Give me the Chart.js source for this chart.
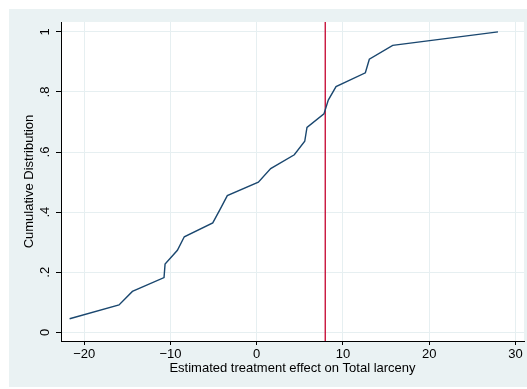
<!DOCTYPE html>
<html>
<head>
<meta charset="utf-8">
<script src="https://cdn.jsdelivr.net/npm/chart.js@4/dist/chart.umd.min.js"></script>
<style>
    html, body { margin: 0; padding: 0; background: #ffffff; }
    canvas { display: block; }
</style>
</head>
<body>
<canvas id="cdfChart" width="527" height="389"></canvas>
<script>
"use strict";
// estimated effects (sorted) and their cumulative share
const effectValues = [-21.7, -15.97, -14.42, -10.75, -10.63, -9.2, -8.4, -5.1, -4.25, -3.41, 0.19, 1.62,
    4.36, 5.57, 5.83, 7.8, 8.3, 9.2, 12.6, 13.06, 15.77, 27.98];
const cdfValues = [0.045, 0.091, 0.136, 0.182, 0.227, 0.273, 0.318, 0.364, 0.409, 0.455, 0.5, 0.545,
    0.591, 0.636, 0.682, 0.727, 0.773, 0.818, 0.864, 0.909, 0.955, 1];
const actualEffect = 7.95;
const xTicks = [-20, -10, 0, 10, 20, 30];
const yTicks = [0, 0.2, 0.4, 0.6, 0.8, 1];
const xRange = [-22.7, 31];
const yRange = [-0.029, 1.033];

const fontFamily = "'Liberation Sans', Arial, sans-serif";
const gridColor = "#e6eff1";

const cdfPoints = effectValues.map((x, i) => ({x: x, y: cdfValues[i]}));

// stata-ish backdrop: white border, light blue-grey graph region, white plot region
const backdrop = {
    id: "backdrop",
    beforeDraw(chart) {
        const ctx = chart.ctx;
        const area = chart.chartArea;
        ctx.save();
        ctx.fillStyle = "#ffffff";
        ctx.fillRect(0, 0, chart.width, chart.height);
        ctx.fillStyle = "#eaf2f3";
        ctx.fillRect(9, 9, chart.width - 9, chart.height - 11);
        ctx.fillStyle = "#ffffff";
        ctx.fillRect(area.left, area.top, area.right - area.left, area.bottom - area.top);
        ctx.restore();
    }
};

function yLabel(v) {
    const r = Math.round(v * 10) / 10;
    if(r === 0) return "0";
    if(r === 1) return "1";
    return String(r).replace(/^0/, "");
}

function xLabel(v) {
    return v < 0 ? "\u2212" + Math.abs(v) : String(v);
}

const chartInstance = new Chart(document.getElementById("cdfChart"), {
    type: "scatter",
    data: {
        datasets: [
            {
                data: cdfPoints,
                showLine: true,
                borderColor: "#1a476f",
                borderWidth: 1.4,
                pointRadius: 0,
                tension: 0
            }, {
                data: [{x: actualEffect, y: yRange[0]}, {x: actualEffect, y: yRange[1]}],
                showLine: true,
                borderColor: "#c8143c",
                borderWidth: 1.4,
                pointRadius: 0
            }
        ]
    },
    options: {
        responsive: false,
        animation: false,
        devicePixelRatio: 1,
        layout: {padding: {left: 0, right: 3, top: 22, bottom: 0}},
        plugins: {
            legend: {display: false},
            tooltip: {enabled: false}
        },
        scales: {
            x: {
                type: "linear",
                min: xRange[0],
                max: xRange[1],
                afterFit: scale => { scale.height = 48; },
                afterBuildTicks: scale => { scale.ticks = xTicks.map(v => ({value: v})); },
                grid: {color: gridColor, lineWidth: 1, tickColor: "#000000", tickLength: 4},
                border: {color: "#000000", width: 1},
                ticks: {
                    padding: 2,
                    maxRotation: 0,
                    color: "#000000",
                    font: {family: fontFamily, size: 13},
                    callback: xLabel
                },
                title: {
                    display: true,
                    text: "Estimated treatment effect on Total larceny",
                    color: "#000000",
                    font: {family: fontFamily, size: 13},
                    padding: {top: 0, bottom: 13}
                }
            },
            y: {
                type: "linear",
                min: yRange[0],
                max: yRange[1],
                afterFit: scale => { scale.width = 61; },
                afterBuildTicks: scale => { scale.ticks = yTicks.map(v => ({value: v})); },
                grid: {color: gridColor, lineWidth: 1, tickColor: "#000000", tickLength: 5},
                border: {color: "#000000", width: 1},
                ticks: {
                    padding: 5,
                    minRotation: 90,
                    maxRotation: 90,
                    crossAlign: "center",
                    color: "#000000",
                    font: {family: fontFamily, size: 13},
                    callback: yLabel
                },
                title: {
                    display: true,
                    text: "Cumulative Distribution",
                    color: "#000000",
                    font: {family: fontFamily, size: 13},
                    padding: {top: 22, bottom: 0}
                }
            }
        }
    },
    plugins: [backdrop]
});
</script>
</body>
</html>
